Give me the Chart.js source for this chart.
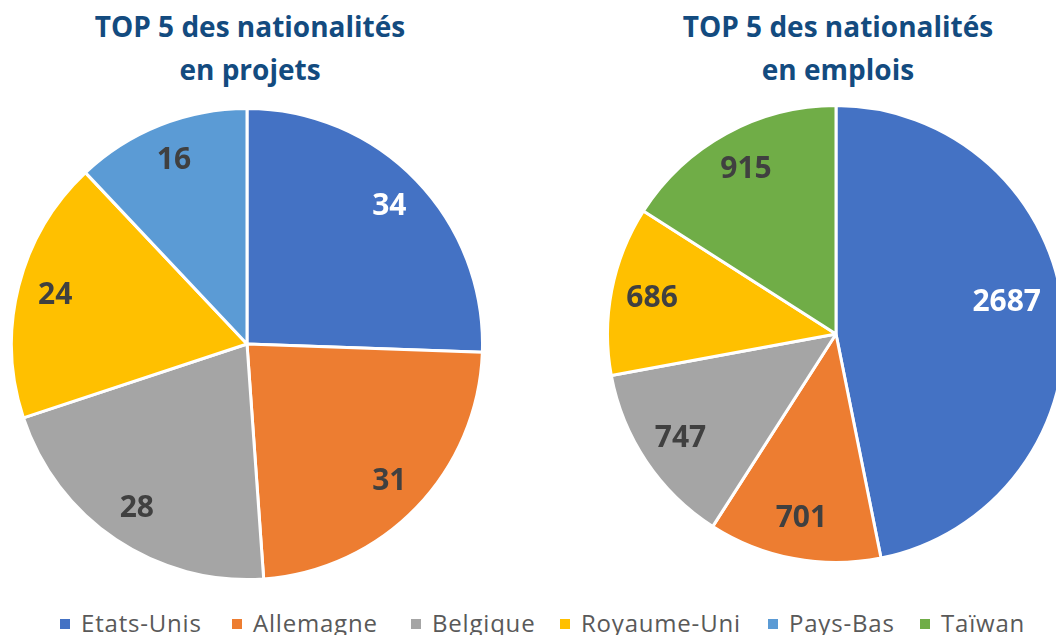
<!DOCTYPE html>
<html>
<head>
<meta charset="utf-8">
<script src="https://cdn.jsdelivr.net/npm/chart.js@4"></script>
<style>
  html, body { margin: 0; padding: 0; background: #fff; overflow: hidden; }
  body { width: 1056px; height: 635px; position: relative; }
  .title { position: absolute; width: 500px; text-align: center; font-family: "Open Sans", Lato, sans-serif;
           font-weight: bold; font-size: 28px; line-height: 43px; color: #134b7f; }
  .pie { position: absolute; }
  #legend { position: absolute; top: 611px; left: 0; width: 1056px; height: 30px;
            font-family: "Open Sans", "Noto Sans", sans-serif; font-size: 24px; line-height: 24px;
            letter-spacing: 0.8px; color: #595959; }
  .item { position: absolute; top: 0; white-space: nowrap; padding-left: 21px; }
  .box { position: absolute; left: 0; top: 8px; width: 10px; height: 10px; }
</style>
</head>
<body>
<div class="title" style="left:0; top:5px;">TOP 5 des nationalités<br>en projets</div>
<div class="title" style="left:588px; top:5px;">TOP 5 des nationalités<br>en emplois</div>
<div class="pie" style="left:10px; top:107px; width:474px; height:474px;"><canvas id="pieProjets"></canvas></div>
<div class="pie" style="left:606px; top:104px; width:460px; height:460px;"><canvas id="pieEmplois"></canvas></div>
<div id="legend"></div>
<script>
const projetLabels = ['Etats-Unis', 'Allemagne', 'Belgique', 'Royaume-Uni', 'Pays-Bas'];
const projetValues = [34, 31, 28, 24, 16];
const emploiLabels = ['Etats-Unis', 'Allemagne', 'Belgique', 'Royaume-Uni', 'Taïwan'];
const emploiValues = [2687, 701, 747, 686, 915];
const legendLabels = ['Etats-Unis', 'Allemagne', 'Belgique', 'Royaume-Uni', 'Pays-Bas', 'Taïwan'];

const colors = {
  'Etats-Unis': '#4472c4',
  'Allemagne': '#ed7d31',
  'Belgique': '#a5a5a5',
  'Royaume-Uni': '#ffc000',
  'Pays-Bas': '#5b9bd5',
  'Taïwan': '#70ad47'
};
const whiteText = ['Etats-Unis'];

// draws the value inside each slice, kept inside the visible part of the page
function sliceLabels(radiusRatio, maxRight) {
  return {
    id: 'sliceLabels',
    afterDatasetsDraw(chart) {
      const ctx = chart.ctx;
      const meta = chart.getDatasetMeta(0);
      const ds = chart.data.datasets[0];
      ctx.save();
      ctx.font = 'bold 30px "Open Sans", Lato, sans-serif';
      ctx.textAlign = 'center';
      ctx.textBaseline = 'middle';
      meta.data.forEach(function(arc, i) {
        const p = arc.getProps(['x', 'y', 'startAngle', 'endAngle', 'outerRadius']);
        const mid = (p.startAngle + p.endAngle) / 2;
        const r = p.outerRadius * radiusRatio;
        const text = String(ds.data[i]);
        const w = ctx.measureText(text).width;
        let x = p.x + Math.cos(mid) * r;
        let y = p.y + Math.sin(mid) * r;
        if (x + w / 2 > maxRight) {
          x = maxRight - w / 2;
          y -= 13;
        }
        ctx.fillStyle = whiteText.includes(chart.data.labels[i]) ? '#ffffff' : '#404040';
        ctx.fillText(text, x, y);
      });
      ctx.restore();
    }
  };
}

function makePie(id, labels, values, ratio, maxRight) {
  const ctx = document.getElementById(id).getContext('2d');
  return new Chart(ctx, {
    type: 'pie',
    data: {
      labels: labels,
      datasets: [{
        data: values,
        backgroundColor: labels.map(l => colors[l]),
        borderColor: '#ffffff',
        borderWidth: 3
      }]
    },
    options: {
      responsive: true,
      maintainAspectRatio: false,
      animation: false,
      layout: { padding: 0 },
      plugins: {
        legend: { display: false },
        tooltip: { enabled: false }
      }
    },
    plugins: [sliceLabels(ratio, maxRight)]
  });
}

makePie('pieProjets', projetLabels, projetValues, 0.84, 9999);
makePie('pieEmplois', emploiLabels, emploiValues, 0.82, 1041 - 606);

// legend shared by both pies
const legendX = [60, 232, 411, 560, 768, 920];
const legend = document.getElementById('legend');
legendLabels.forEach(function(l, i) {
  const item = document.createElement('div');
  item.className = 'item';
  item.style.left = legendX[i] + 'px';
  item.innerHTML = '<span class="box" style="background:' + colors[l] + '"></span>' + l;
  legend.appendChild(item);
});
</script>
</body>
</html>
